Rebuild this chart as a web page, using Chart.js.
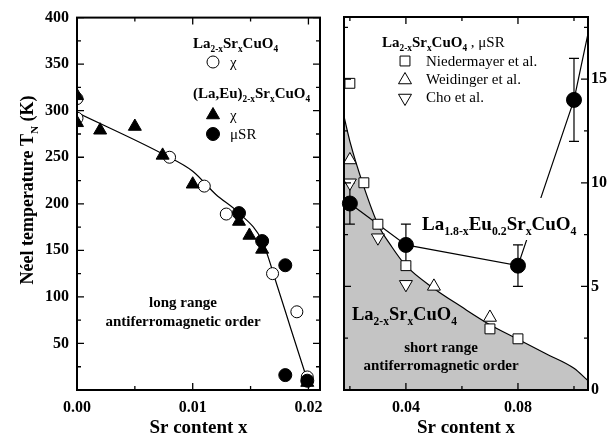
<!DOCTYPE html>
<html>
<head>
<meta charset="utf-8">
<script src="https://cdn.jsdelivr.net/npm/chart.js@4.4.0/dist/chart.umd.min.js"></script>
<style>
  html, body { margin: 0; padding: 0; background: #fff; }
  #wrap { position: relative; width: 613px; height: 436px; }
  canvas { position: absolute; top: 0; }
  #left { left: 0; }
  #right { left: 332px; }
</style>
</head>
<body>
<div id="wrap">
  <canvas id="left" width="332" height="436"></canvas>
  <canvas id="right" width="281" height="436"></canvas>
</div>
<script>
// ---- left panel: T_N (K) vs Sr content ----
const laChiX = [0, 0, 0.008, 0.011, 0.0129, 0.0169, 0.019, 0.0199];
const laChiT = [313, 292, 250, 219, 189, 125, 84, 14];

const euChiX = [0, 0, 0.002, 0.005, 0.0074, 0.01, 0.014, 0.0149, 0.016, 0.0199];
const euChiT = [316, 287, 279, 283, 252, 221, 181, 166, 151, 8];

const euMuX = [0.014, 0.016, 0.018, 0.018, 0.0199];
const euMuT = [190, 160, 134, 16, 10];

const fitX = [0, 0.0075, 0.01, 0.012, 0.014, 0.016, 0.0173, 0.0185, 0.0201];
const fitT = [298, 253, 235, 210, 190, 160, 112, 65, 3];

const xTicksL = [0, 0.01, 0.02];
const xMinorL = [0.005, 0.015];
const yTicksL = [50, 100, 150, 200, 250, 300, 350, 400];
const yMinorL = [25, 75, 125, 175, 225, 275, 325, 375];

// ---- right panel: muSR, T (K) vs Sr content ----
const euX = [0.02, 0.04, 0.08, 0.1];
const euT = [9, 7, 6, 14];
const euErr = [1, 1, 1, 2];
const euLineX = [0.02, 0.04, 0.08, 0.1, 0.105];
const euLineT = [9, 7, 6, 14, 17.2];

const niedX = [0.02, 0.025, 0.03, 0.04, 0.07, 0.08];
const niedT = [14.8, 10, 8, 6, 2.95, 2.47];

const weidX = [0.02, 0.05, 0.07];
const weidT = [11.1, 5.0, 3.5];

const choX = [0.02, 0.03, 0.04];
const choT = [10, 7.35, 5.1];

const srX = [0.0179, 0.02, 0.025, 0.03, 0.035, 0.04, 0.05, 0.06, 0.07, 0.08, 0.09, 0.1, 0.105];
const srT = [13.2, 12.0, 9.8, 8.0, 6.9, 6.0, 4.9, 4.0, 3.15, 2.45, 1.75, 1.05, 0.45];

const xTicksR = [0.04, 0.08];
const xMinorR = [0.02, 0.06, 0.1];
const yTicksR = [0, 5, 10, 15];
const yMinorR = [2.5, 7.5, 12.5, 17.5];

const FAM = "'Liberation Serif', 'Times New Roman', serif";
const xy = (xs, ys) => xs.map((x, i) => ({ x: x, y: ys[i] }));

// text with subscripts: parts = [[text, isSub], ...]
function rich(ctx, parts, x, y, size, weight, align) {
  let w = 0;
  parts.forEach(p => {
    ctx.font = weight + ' ' + (p[1] ? size * 0.62 : size) + 'px ' + FAM;
    w += ctx.measureText(p[0]).width;
  });
  let cx = align === 'center' ? x - w / 2 : x;
  ctx.textAlign = 'left';
  ctx.textBaseline = 'alphabetic';
  parts.forEach(p => {
    ctx.font = weight + ' ' + (p[1] ? size * 0.62 : size) + 'px ' + FAM;
    ctx.fillText(p[0], cx, p[1] ? y + size * 0.28 : y);
    cx += ctx.measureText(p[0]).width;
  });
  return w;
}

function marker(ctx, style, x, y, r, fill, rot) {
  ctx.save();
  ctx.fillStyle = fill;
  ctx.strokeStyle = '#000';
  ctx.lineWidth = 1;
  Chart.helpers.drawPoint(ctx, { pointStyle: style, radius: r, rotation: rot || 0, borderWidth: 1 }, x, y);
  ctx.restore();
}

function frameTicks(chart, xMaj, xMin, yMaj, yMin) {
  const ctx = chart.ctx, a = chart.chartArea;
  const xs = chart.scales.x, ys = chart.scales.y;
  ctx.save();
  ctx.strokeStyle = '#000';
  ctx.lineWidth = 1.3;
  ctx.beginPath();
  const vx = (vals, len) => vals.forEach(v => {
    const p = xs.getPixelForValue(v);
    ctx.moveTo(p, a.bottom); ctx.lineTo(p, a.bottom - len);
    ctx.moveTo(p, a.top); ctx.lineTo(p, a.top + len);
  });
  const vy = (vals, len) => vals.forEach(v => {
    const p = ys.getPixelForValue(v);
    ctx.moveTo(a.left, p); ctx.lineTo(a.left + len, p);
    ctx.moveTo(a.right, p); ctx.lineTo(a.right - len, p);
  });
  vx(xMaj, 7); vx(xMin, 4); vy(yMaj, 7); vy(yMin, 4);
  ctx.stroke();
  ctx.lineWidth = 2;
  ctx.strokeRect(a.left, a.top, a.right - a.left, a.bottom - a.top);
  ctx.restore();
}

const tickFont = { family: FAM, size: 16, weight: 'bold' };

// ---------------- left chart ----------------
const leftText = {
  id: 'leftText',
  afterDatasetsDraw(chart) {
    const ctx = chart.ctx, a = chart.chartArea;
    frameTicks(chart, xTicksL, xMinorL, yTicksL, yMinorL);
    ctx.save();
    ctx.fillStyle = '#000';
    // legend
    rich(ctx, [['La'], ['2-x', 1], ['Sr'], ['x', 1], ['CuO'], ['4', 1]], 193, 48, 15, 'bold', 'left');
    marker(ctx, 'circle', 213, 62, 6, '#fff');
    rich(ctx, [['χ']], 230, 67, 15, 'normal', 'left');
    rich(ctx, [['(La,Eu)'], ['2-x', 1], ['Sr'], ['x', 1], ['CuO'], ['4', 1]], 193, 98, 15, 'bold', 'left');
    marker(ctx, 'triangle', 213, 115, 7.5, '#000');
    rich(ctx, [['χ']], 230, 120, 15, 'normal', 'left');
    marker(ctx, 'circle', 213, 134, 6.5, '#000');
    rich(ctx, [['μSR']], 230, 139, 15, 'normal', 'left');
    // annotation
    rich(ctx, [['long range']], 183, 307, 15, 'bold', 'center');
    rich(ctx, [['antiferromagnetic order']], 183, 326, 15, 'bold', 'center');
    // axis titles
    rich(ctx, [['Sr content x']], (a.left + a.right) / 2, 433, 19, 'bold', 'center');
    ctx.translate(33, 190);
    ctx.rotate(-Math.PI / 2);
    rich(ctx, [['Néel temperature T'], ['N', 1], [' (K)']], 0, 0, 18, 'bold', 'center');
    ctx.restore();
  }
};

new Chart(document.getElementById('left'), {
  type: 'scatter',
  data: {
    datasets: [
      { label: 'fit', type: 'line', data: xy(fitX, fitT), borderColor: '#000', borderWidth: 1.2,
        pointRadius: 0, cubicInterpolationMode: 'monotone', fill: false, order: 5 },
      { label: 'La2-xSrxCuO4 χ', data: xy(laChiX, laChiT), pointStyle: 'circle', pointRadius: 6,
        backgroundColor: '#fff', borderColor: '#000', borderWidth: 1, order: 4 },
      { label: '(La,Eu)2-xSrxCuO4 χ', data: xy(euChiX, euChiT), pointStyle: 'triangle', pointRadius: 7.5,
        backgroundColor: '#000', borderColor: '#000', borderWidth: 1, order: 3 },
      { label: '(La,Eu)2-xSrxCuO4 μSR', data: xy(euMuX, euMuT), pointStyle: 'circle', pointRadius: 6.5,
        backgroundColor: '#000', borderColor: '#000', borderWidth: 1, order: 2 }
    ]
  },
  options: {
    responsive: false,
    devicePixelRatio: 1,
    animation: false,
    events: [],
    layout: { padding: { left: 0, right: 12, top: 17, bottom: 0 } },
    plugins: { legend: { display: false }, tooltip: { enabled: false } },
    scales: {
      x: {
        type: 'linear', min: 0, max: 0.021,
        afterBuildTicks: s => { s.ticks = xTicksL.map(v => ({ value: v })); },
        afterFit: s => { s.height = 46; },
        grid: { display: false, drawTicks: false },
        border: { display: false },
        ticks: { callback: v => v.toFixed(2), font: tickFont, color: '#000', padding: 8, maxRotation: 0, autoSkip: false }
      },
      y: {
        type: 'linear', min: 0, max: 400,
        afterBuildTicks: s => { s.ticks = yTicksL.map(v => ({ value: v })); },
        afterFit: s => { s.width = 77; },
        grid: { display: false, drawTicks: false },
        border: { display: false },
        ticks: { callback: v => String(v), font: tickFont, color: '#000', padding: 8, autoSkip: false }
      }
    }
  },
  plugins: [leftText]
});

// ---------------- right chart ----------------
const rightText = {
  id: 'rightText',
  afterDatasetDraw(chart, args) {
    if (args.index !== 0) return;
    // error bars, over the gray area but under the symbols
    const ctx = chart.ctx, xs = chart.scales.x, ys = chart.scales.y;
    ctx.save();
    ctx.strokeStyle = '#000';
    ctx.lineWidth = 1.2;
    ctx.beginPath();
    euX.forEach((x, i) => {
      const px = xs.getPixelForValue(x);
      const lo = ys.getPixelForValue(euT[i] - euErr[i]);
      const hi = ys.getPixelForValue(euT[i] + euErr[i]);
      ctx.moveTo(px, lo); ctx.lineTo(px, hi);
      ctx.moveTo(px - 5, lo); ctx.lineTo(px + 5, lo);
      ctx.moveTo(px - 5, hi); ctx.lineTo(px + 5, hi);
    });
    ctx.stroke();
    ctx.restore();
  },
  afterDatasetsDraw(chart) {
    const ctx = chart.ctx, a = chart.chartArea;
    const ox = -332;
    ctx.save();
    ctx.fillStyle = '#fff';
    ctx.fillRect(420 + ox, 198, 156, 42);
    ctx.restore();
    frameTicks(chart, xTicksR, xMinorR, yTicksR, yMinorR);
    ctx.save();
    ctx.fillStyle = '#000';
    // legend
    const w = rich(ctx, [['La'], ['2-x', 1], ['Sr'], ['x', 1], ['CuO'], ['4', 1]], 382 + ox, 47, 15, 'bold', 'left');
    rich(ctx, [[' , μSR']], 382 + ox + w, 47, 15, 'normal', 'left');
    marker(ctx, 'rect', 405 + ox, 61, 7, '#fff');
    rich(ctx, [['Niedermayer et al.']], 426 + ox, 66, 15, 'normal', 'left');
    marker(ctx, 'triangle', 405 + ox, 80, 7.5, '#fff');
    rich(ctx, [['Weidinger et al.']], 426 + ox, 84, 15, 'normal', 'left');
    marker(ctx, 'triangle', 405 + ox, 98, 7.5, '#fff', 180);
    rich(ctx, [['Cho et al.']], 426 + ox, 102, 15, 'normal', 'left');
    // annotations
    rich(ctx, [['La'], ['1.8-x', 1], ['Eu'], ['0.2', 1], ['Sr'], ['x', 1], ['CuO'], ['4', 1]], 422 + ox, 230, 19, 'bold', 'left');
    rich(ctx, [['La'], ['2-x', 1], ['Sr'], ['x', 1], ['CuO'], ['4', 1]], 352 + ox, 320, 18.5, 'bold', 'left');
    rich(ctx, [['short range']], 441 + ox, 352, 15, 'bold', 'center');
    rich(ctx, [['antiferromagnetic order']], 441 + ox, 370, 15, 'bold', 'center');
    rich(ctx, [['Sr content x']], (a.left + a.right) / 2, 433, 19, 'bold', 'center');
    ctx.restore();
  }
};

new Chart(document.getElementById('right'), {
  type: 'scatter',
  data: {
    datasets: [
      { label: 'La2-xSrxCuO4 short range', type: 'line', data: xy(srX, srT), borderColor: '#000', borderWidth: 1.2,
        backgroundColor: '#c4c4c4', fill: 'origin', pointRadius: 0, cubicInterpolationMode: 'monotone', order: 10 },
      { label: 'La1.8-xEu0.2SrxCuO4 line', type: 'line', data: xy(euLineX, euLineT), borderColor: '#000', borderWidth: 1.2,
        pointRadius: 0, fill: false, tension: 0, order: 6 },
      { label: 'Niedermayer et al.', data: xy(niedX, niedT), pointStyle: 'rect', pointRadius: 7,
        backgroundColor: '#fff', borderColor: '#000', borderWidth: 1, order: 5, clip: false },
      { label: 'Weidinger et al.', data: xy(weidX, weidT), pointStyle: 'triangle', pointRadius: 7.5,
        backgroundColor: '#fff', borderColor: '#000', borderWidth: 1, order: 4, clip: false },
      { label: 'Cho et al.', data: xy(choX, choT), pointStyle: 'triangle', rotation: 180, pointRadius: 7.5,
        backgroundColor: '#fff', borderColor: '#000', borderWidth: 1, order: 3, clip: false },
      { label: 'La1.8-xEu0.2SrxCuO4', data: xy(euX, euT), pointStyle: 'circle', pointRadius: 7.5,
        backgroundColor: '#000', borderColor: '#000', borderWidth: 1, order: 2, clip: false }
    ]
  },
  options: {
    responsive: false,
    devicePixelRatio: 1,
    animation: false,
    events: [],
    layout: { padding: { left: 12, right: 0, top: 17, bottom: 0 } },
    plugins: { legend: { display: false }, tooltip: { enabled: false } },
    scales: {
      x: {
        type: 'linear', min: 0.0179, max: 0.105,
        afterBuildTicks: s => { s.ticks = xTicksR.map(v => ({ value: v })); },
        afterFit: s => { s.height = 46; },
        grid: { display: false, drawTicks: false },
        border: { display: false },
        ticks: { callback: v => v.toFixed(2), font: tickFont, color: '#000', padding: 8, maxRotation: 0, autoSkip: false }
      },
      y: {
        type: 'linear', position: 'right', min: 0, max: 18,
        afterBuildTicks: s => { s.ticks = yTicksR.map(v => ({ value: v })); },
        afterFit: s => { s.width = 25; },
        grid: { display: false, drawTicks: false },
        border: { display: false },
        ticks: { callback: v => String(v), font: tickFont, color: '#000', padding: 3, autoSkip: false }
      }
    }
  },
  plugins: [rightText]
});
</script>
</body>
</html>
